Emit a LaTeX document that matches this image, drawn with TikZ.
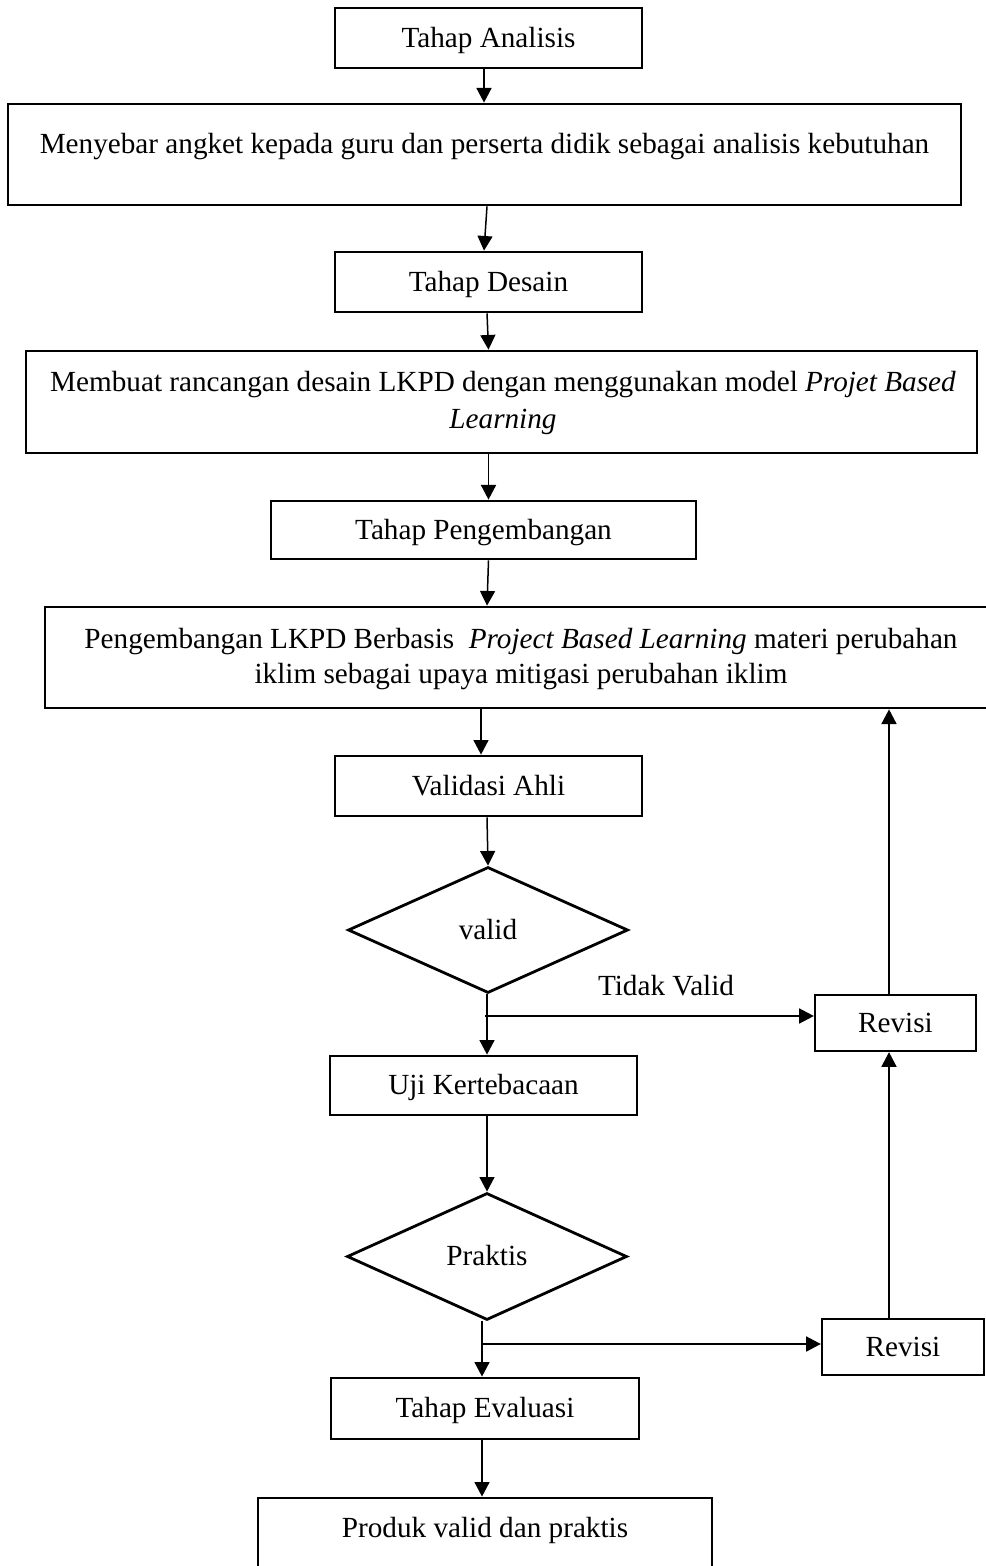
\documentclass[tikz,border=0pt]{standalone}
\usepackage{fontspec}
\setmainfont{Liberation Serif}
\usetikzlibrary{shapes.geometric,arrows.meta}
\begin{document}
\begin{tikzpicture}[x=0.5pt,y=-0.5pt,
  every node/.style={font=\fontsize{14.6}{18.5}\selectfont, inner sep=0pt},
  one/.style={text height=11.7pt, text depth=2.6pt},
  box/.style={draw, line width=1.4pt, rectangle, one},
  dia/.style={draw, line width=1.4pt, diamond, one},
  txt/.style={align=center},
  arr/.style={line width=0.75pt, -{Triangle[length=7.3pt,width=7.5pt]}}]
\useasboundingbox (0,0) rectangle (985,1566);

\node[box, minimum width=153.5pt, minimum height=30pt] (b1) at (488.5,38) {Tahap Analisis};
\node[box, minimum width=476.5pt, minimum height=50.5pt] (b2) at (484.5,154.5) {};
\node[anchor=base] (t2) at (484.5,153.5) {Menyebar angket kepada guru dan perserta didik sebagai analisis kebutuhan};
\node[box, minimum width=153.5pt, minimum height=30pt] (b3) at (488.5,282) {Tahap Desain};
\node[box, minimum width=475.5pt, minimum height=51pt] (b4) at (501.5,402) {};
\node[txt] (t4) at (503,402.5) {Membuat rancangan desain LKPD dengan menggunakan model \textit{Projet Based}\\\textit{Learning}};
\node[box, minimum width=212.5pt, minimum height=29pt] (b5) at (483.5,530) {Tahap Pengembangan};
\node[box, minimum width=477.5pt, minimum height=50.5pt] (b6) at (522.5,657.5) {};
\node[txt, font=\fontsize{14.6}{17.5}\selectfont] (t6) at (521,659.5) {Pengembangan LKPD Berbasis\ \ \textit{Project Based Learning} materi perubahan\\iklim sebagai upaya mitigasi perubahan iklim};
\node[box, minimum width=153.5pt, minimum height=30pt] (b7) at (488.5,786) {Validasi Ahli};
\node[dia, minimum width=140pt, minimum height=63pt] (d1) at (488,930) {valid};
\node[box, minimum width=153.5pt, minimum height=29.5pt] (uji) at (483.5,1085.5) {Uji Kertebacaan};
\node[dia, minimum width=140pt, minimum height=63.5pt] (d2) at (487,1256.5) {Praktis};
\node[box, minimum width=154pt, minimum height=30.5pt] (ev) at (485,1408.5) {Tahap Evaluasi};
\node[box, minimum width=227pt, minimum height=61pt] (pr) at (485,1559) {};
\node[anchor=base] (tp) at (485,1537) {Produk valid dan praktis};
\node[box, line width=1.2pt, minimum width=80.5pt, minimum height=28pt] (r1) at (895.5,1023) {Revisi};
\node[box, line width=1.2pt, minimum width=81pt, minimum height=28pt] (r2) at (903,1347) {Revisi};
\node[anchor=base] (tv) at (666,995) {Tidak Valid};

\coordinate (x1) at (484,0);
\coordinate (x2) at (487,0);
\coordinate (x3) at (481,0);
\coordinate (x4) at (889,0);
\coordinate (j1) at (485,1016);
\coordinate (j2) at (482,1344);

\draw[arr] (b1.south -| x1) -- (b2.north -| x1);
\draw[arr] (b2.south -| x2) -- (b3.north -| x1);
\draw[arr] (b3.south -| x2) -- (b4.north -| b3.south);
\draw[arr] (b4.south -| b3.south) -- (b5.north -| b3.south);
\draw[arr] (b5.south -| b3.south) -- (b6.north -| x2);
\draw[arr] (b6.south -| x3) -- (b7.north -| x3);
\draw[arr] (b7.south -| x2) -- (d1.north);
\draw[arr] (d1.south -| x2) -- (uji.north -| x2);
\draw[arr] (j1) -- (j1 -| r1.west);
\draw[arr] (r1.north -| x4) -- (b6.south -| x4);
\draw[arr] (uji.south -| x2) -- (d2.north);
\draw[arr] (d2.south -| j2) -- (ev.north -| j2);
\draw[arr] (j2) -- (j2 -| r2.west);
\draw[arr] (r2.north -| x4) -- (r1.south -| x4);
\draw[arr] (ev.south -| j2) -- (pr.north -| j2);
\end{tikzpicture}
\end{document}
